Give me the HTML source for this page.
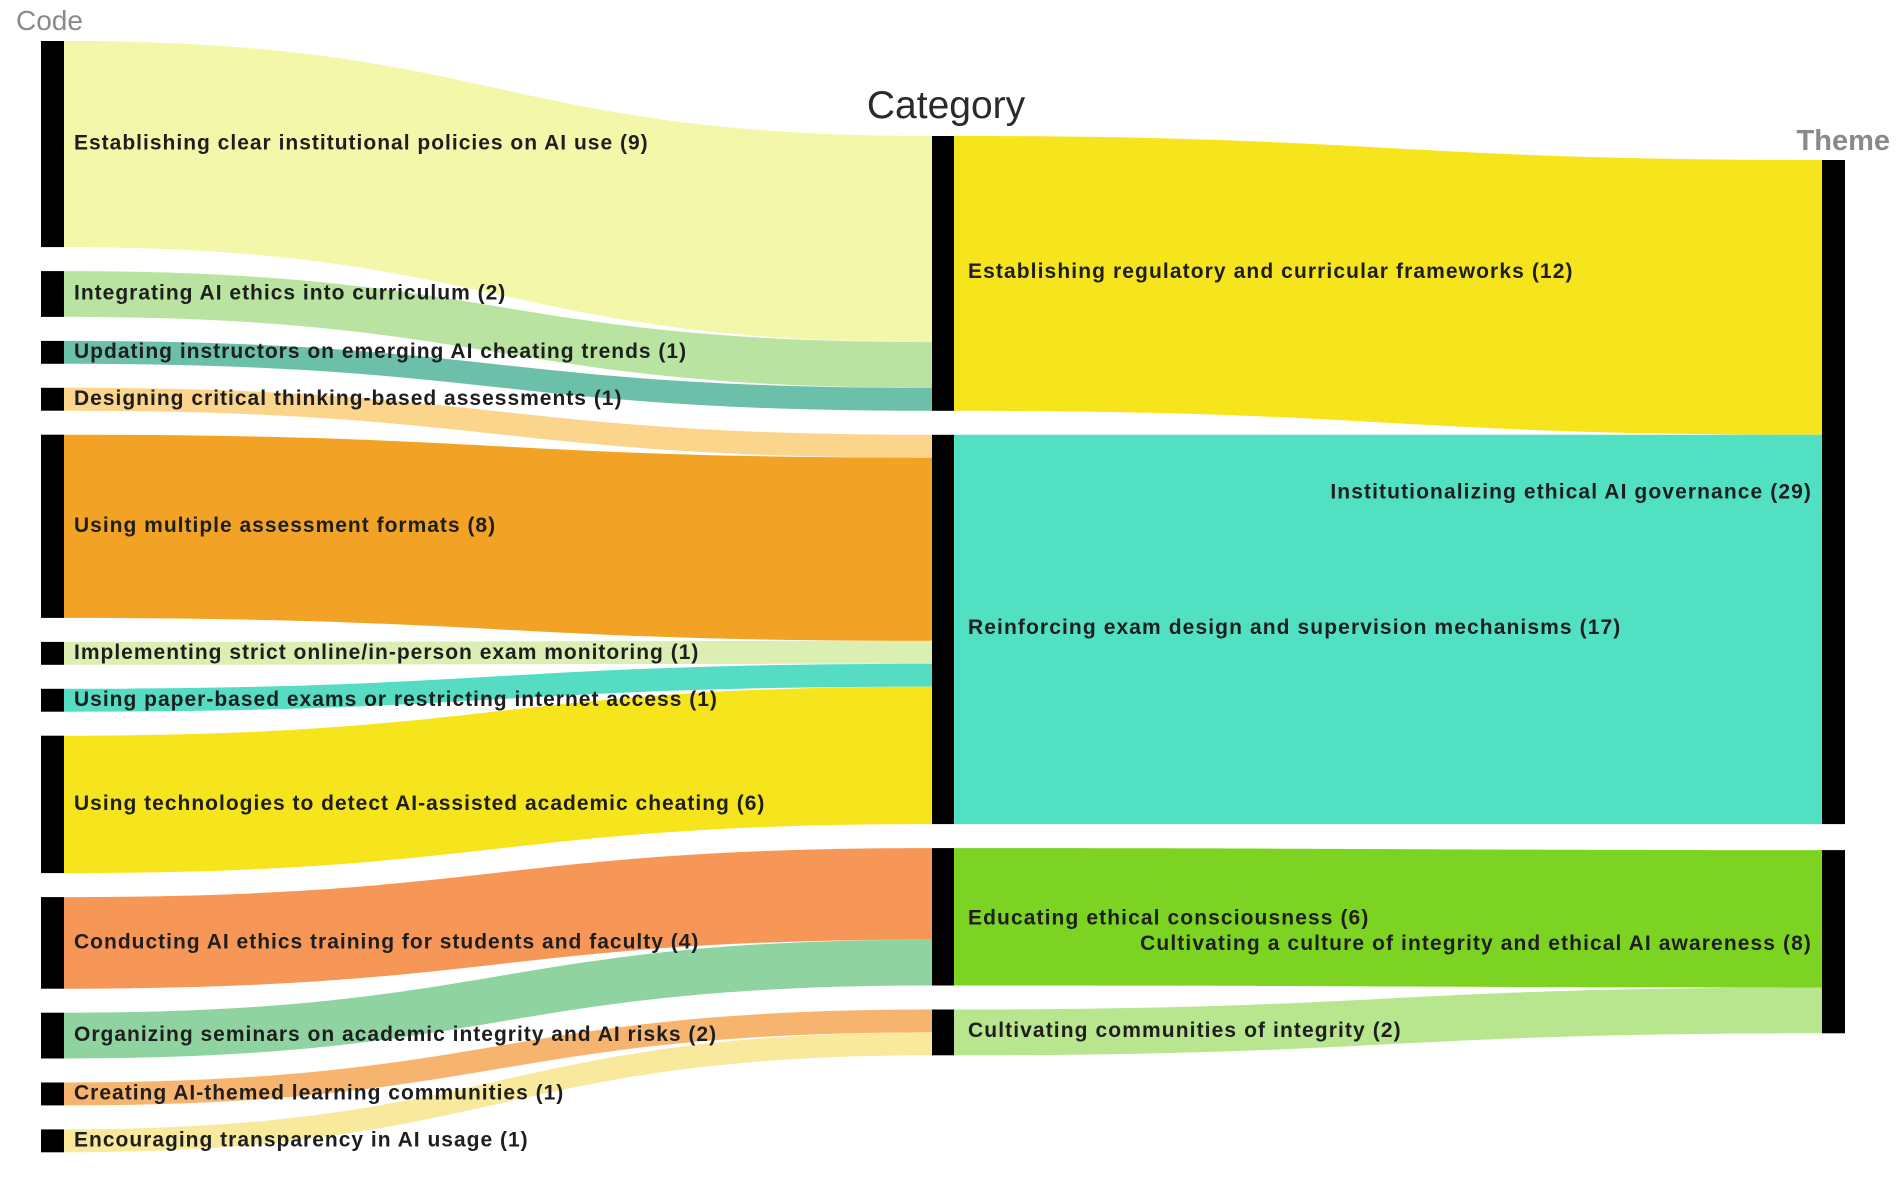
<!DOCTYPE html>
<html><head><meta charset="utf-8"><style>
html,body{margin:0;padding:0;background:#fff;}
svg{display:block;font-family:"Liberation Sans",Arial,sans-serif;}
</style></head><body>
<svg id="chart" width="1902" height="1187" viewBox="0 0 1902 1187" xmlns="http://www.w3.org/2000/svg">
<text x="16" y="30" font-size="28" fill="#8a8a8a">Code</text>
<text x="946" y="118" font-size="39" fill="#2a2a2a" text-anchor="middle">Category</text>
<text x="1890" y="150" font-size="29" font-weight="bold" fill="#8a8a8a" text-anchor="end">Theme</text>
<g id="links"></g><g id="nodes"></g><g id="labels"></g>
</svg>
<script>
const codeNames = ["Establishing clear institutional policies on AI use","Integrating AI ethics into curriculum","Updating instructors on emerging AI cheating trends","Designing critical thinking-based assessments","Using multiple assessment formats","Implementing strict online/in-person exam monitoring","Using paper-based exams or restricting internet access","Using technologies to detect AI-assisted academic cheating","Conducting AI ethics training for students and faculty","Organizing seminars on academic integrity and AI risks","Creating AI-themed learning communities","Encouraging transparency in AI usage"];
const codeValues = [9,2,1,1,8,1,1,6,4,2,1,1];
const codeToCategory = [0,0,0,1,1,1,1,1,2,2,3,3];
const codeColors = ["#f3f7a9","#b9e3a0","#6cc0aa","#fbd58c","#f2a325","#dcefb2","#55dcc2","#f6e41d","#f69758","#8fd3a0","#f7b46e","#f9e99c"];
const categoryNames = ["Establishing regulatory and curricular frameworks","Reinforcing exam design and supervision mechanisms","Educating ethical consciousness","Cultivating communities of integrity"];
const categoryToTheme = [0,0,1,1];
const categoryColors = ["#f6e41d","#52e0c3","#7dd322","#b8e68e"];
const themeNames = ["Institutionalizing ethical AI governance","Cultivating a culture of integrity and ethical AI awareness"];

const NS="http://www.w3.org/2000/svg";
const unit=22.9;
const col={code:{x:41,w:23,top:41,gap:24},cat:{x:932,w:22,top:136,gap:24},theme:{x:1822,w:23,top:160,gap:26}};
const catValues=categoryNames.map((_,i)=>codeValues.reduce((s,v,j)=>s+(codeToCategory[j]===i?v:0),0));
const themeValues=themeNames.map((_,i)=>catValues.reduce((s,v,j)=>s+(categoryToTheme[j]===i?v:0),0));
function layout(vals,c){let y=c.top;return vals.map(v=>{const h=v*unit;const r={y0:y,y1:y+h};y+=h+c.gap;return r;});}
const codeL=layout(codeValues,col.code), catL=layout(catValues,col.cat), themeL=layout(themeValues,col.theme);
const gL=document.getElementById('links'),gN=document.getElementById('nodes'),gT=document.getElementById('labels');
function link(x0,a0,a1,x1,b0,b1,color){
  const m=(x0+x1)/2;
  const p=document.createElementNS(NS,'path');
  p.setAttribute('d',`M${x0},${a0} C${m},${a0} ${m},${b0} ${x1},${b0} L${x1},${b1} C${m},${b1} ${m},${a1} ${x0},${a1} Z`);
  p.setAttribute('fill',color);
  return p;
}
const catOff=catL.map(n=>n.y0);
codeValues.forEach((v,i)=>{
  const c=codeToCategory[i],h=v*unit,b0=catOff[c];catOff[c]+=h;
  const p=link(col.code.x+col.code.w,codeL[i].y0,codeL[i].y1,col.cat.x,b0,b0+h,codeColors[i]);
  
  
  gL.appendChild(p);
});
const thOff=themeL.map(n=>n.y0);
catValues.forEach((v,i)=>{
  const t=categoryToTheme[i],h=v*unit,b0=thOff[t];thOff[t]+=h;
  const p=link(col.cat.x+col.cat.w,catL[i].y0,catL[i].y1,col.theme.x,b0,b0+h,categoryColors[i]);
  
  
  gL.appendChild(p);
});
function node(c,l,name){
  const r=document.createElementNS(NS,'rect');
  r.setAttribute('x',c.x);r.setAttribute('y',l.y0);r.setAttribute('width',c.w);r.setAttribute('height',l.y1-l.y0);r.setAttribute('fill','#000');
  
  
  gN.appendChild(r);
}
function label(x,y,txt,size,ls,anchor,name){
  const t=document.createElementNS(NS,'text');
  t.setAttribute('x',x);t.setAttribute('y',y);t.setAttribute('font-size',size);t.setAttribute('font-weight','bold');
  t.setAttribute('letter-spacing',ls);
  t.setAttribute('fill','#1e1e1e');t.setAttribute('dominant-baseline','central');t.setAttribute('text-anchor',anchor);
  t.textContent=txt;
  
  
  gT.appendChild(t);
}
codeL.forEach((l,i)=>{node(col.code,l,'code-node-'+(i+1));label(74,(l.y0+l.y1)/2-1,codeNames[i]+' ('+codeValues[i]+')',21,1,'start','code-label-'+(i+1));});
catL.forEach((l,i)=>{node(col.cat,l,'category-node-'+(i+1));const y=i===2?(l.y0+l.y1)/2+1:(l.y0+l.y1)/2-2;label(968,y,categoryNames[i]+' ('+catValues[i]+')',21,1.1,'start','category-label-'+(i+1));});
themeL.forEach((l,i)=>{node(col.theme,l,'theme-node-'+(i+1));const y=i===1?(l.y0+l.y1)/2+2:(l.y0+l.y1)/2;label(1812,y,themeNames[i]+' ('+themeValues[i]+')',21,1.1,'end','theme-label-'+(i+1));});
</script>
</body></html>
